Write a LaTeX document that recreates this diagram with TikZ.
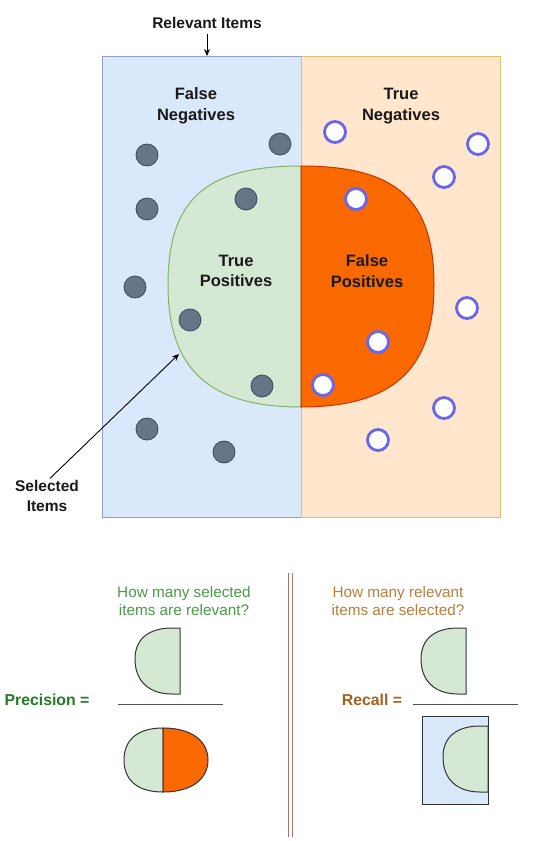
\documentclass[tikz,border=0pt]{standalone}
\usepackage{fontspec}
\setmainfont{Liberation Sans}
\usetikzlibrary{arrows.meta}
\definecolor{lfill}{HTML}{DAE8FC}
\definecolor{lline}{HTML}{8F9FC0}
\definecolor{rfill}{HTML}{FFE6CC}
\definecolor{rline}{HTML}{E0BE72}
\definecolor{gfill}{HTML}{D5E8D4}
\definecolor{gline}{HTML}{82B366}
\definecolor{ofill}{HTML}{FA6800}
\definecolor{oline}{HTML}{C73500}
\definecolor{dotfill}{HTML}{647687}
\definecolor{dotline}{HTML}{3B4A5A}
\definecolor{ring}{HTML}{6666F0}
\definecolor{txt}{HTML}{1A1A1A}
\definecolor{qgreen}{HTML}{4A9A4A}
\definecolor{pgreen}{HTML}{257A25}
\definecolor{qbrown}{HTML}{B5803F}
\definecolor{rbrown}{HTML}{A3621F}
\definecolor{sep}{HTML}{A07570}
\definecolor{dk}{HTML}{333333}
\tikzset{
  lbl/.style={font=\bfseries\fontsize{16.5}{20.5}\selectfont, text=txt, align=center, inner sep=0pt},
  lbls/.style={font=\bfseries\fontsize{15.5}{19.5}\selectfont, text=txt, align=center, inner sep=0pt},
  quest/.style={font=\fontsize{15.3}{18}\selectfont, align=center, inner sep=0pt},
  frac/.style={font=\bfseries\fontsize{15.8}{18}\selectfont, inner sep=0pt},
  arr/.style={draw=black, line width=0.9pt, -{Stealth[length=7pt,width=6pt]}},
  dark/.style={fill=dotfill, draw=dotline, line width=0.8pt},
  hollow/.style={fill=white, draw=ring, line width=2.8pt},
  small/.style={draw=dk, line width=1pt},
  halfd/.pic={\path[pic actions] (0,0) -- (-8,0) .. controls (-30,0) and (-45,10) .. (-45,31) .. controls (-45,54) and (-30,66) .. (-8,66) -- (0,66) -- cycle;}
}
\begin{document}
\begin{tikzpicture}[x=1pt,y=-1pt]
\useasboundingbox (0,0) rectangle (542,841);
\fill[white] (0,0) rectangle (542,841);
% boxes
\draw[fill=lfill, draw=lline, line width=1pt] (102,56) rectangle (301,517);
\draw[fill=rfill, draw=rline, line width=1pt] (301,56) rectangle (500,517);
% selected shape
\draw[fill=gfill, draw=gline, line width=1pt] (301,166) .. controls (205,166) and (168,200) .. (168,285) .. controls (168,370) and (210,407) .. (301,407) -- cycle;
\draw[fill=ofill, draw=oline, line width=1pt] (301,166) .. controls (397,166) and (434,200) .. (434,285) .. controls (434,370) and (392,407) .. (301,407) -- cycle;
% dark dots
\foreach \p in {(147,155),(280,144),(147,209),(246,199),(135,287),(190,320),(262,386),(147,429),(224,452)}
  \draw[dark] \p circle (11);
% hollow dots
\foreach \p in {(335,132),(478,144),(444,177),(356,199),(467,308),(378,342),(323,385),(444,408),(378,440)}
  \draw[hollow] \p circle (10.5);
% labels
\node[lbl] (fn) at (196,106) {False\\Negatives};
\node[lbl] (tn) at (401,106) {True\\Negatives};
\node[lbl] (tp) at (236,271) {True\\Positives};
\node[lbl] (fp) at (367,271) {False\\Positives};
\node[lbls] (rel) at (207,23) {Relevant Items};
\coordinate (relTip) at (207,56);
\draw[arr] ([yshift=-5pt]rel.south) -- (relTip);
\node[lbls] (sel) at (47,496) {Selected\\Items};
\coordinate (selTip) at (179,354);
\draw[arr] ([xshift=3pt,yshift=2pt]sel.north) -- (selTip);
% separator
\draw[sep, line width=1pt] (288,573) -- (288,837);
\draw[sep, line width=1pt] (292,573) -- (292,837);
% precision
\node[quest, text=qgreen] (q1) at (184,601) {How many selected\\items are relevant?};
\node[frac, text=pgreen] (prec) at (47,700) {Precision =};
\pic[small, fill=gfill] at (180,628) {halfd};
\draw[dk!85, line width=1pt] (118,704) -- (223,704);
\draw[small, fill=gfill] (163,728) .. controls (135,728) and (124,742) .. (124,760) .. controls (124,778) and (135,792) .. (163,792) -- cycle;
\draw[small, fill=ofill] (163,728) .. controls (193,728) and (208,742) .. (208,760) .. controls (208,778) and (193,792) .. (163,792) -- cycle;
% recall
\node[quest, text=qbrown] (q2) at (398,601) {How many relevant\\items are selected?};
\node[frac, text=rbrown] (rec) at (372,700) {Recall =};
\pic[small, fill=gfill] at (466,628) {halfd};
\draw[dk!85, line width=1pt] (413,704) -- (518,704);
\draw[small, fill=lfill] (422,716) rectangle (488,804);
\pic[small, fill=gfill] at (488,726) {halfd};
\draw[small] (488,716) -- (488,804);
\end{tikzpicture}
\end{document}
